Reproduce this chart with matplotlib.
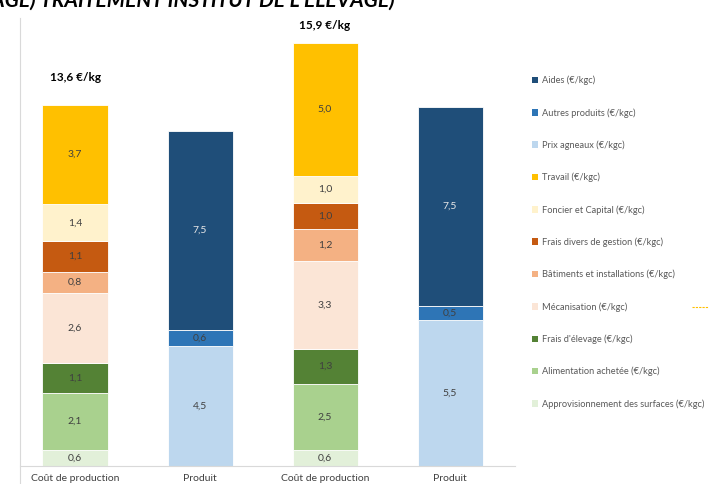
import matplotlib.pyplot as plt
from matplotlib.patches import Patch
from matplotlib.lines import Line2D

plt.rcParams['font.family'] = ['Lato', 'DejaVu Sans']

# Categories (x axis)
categories = ['Coût de production', 'Produit', 'Coût de production', 'Produit']

# Cost series, bottom to top (values for the two "Coût de production" bars)
# (first bar read a bit finer than the printed 1-decimal labels so it tops at 13,6)
cost_series = [
    ('Approvisionnement des surfaces (€/kgc)', [0.62, 0.6], '#E2F0D9'),
    ('Alimentation achetée (€/kgc)', [2.12, 2.5], '#A9D18E'),
    ("Frais d'élevage (€/kgc)", [1.14, 1.3], '#548235'),
    ('Mécanisation (€/kgc)', [2.62, 3.3], '#FBE5D6'),
    ('Bâtiments et installations (€/kgc)', [0.8, 1.2], '#F4B183'),
    ('Frais divers de gestion (€/kgc)', [1.14, 1.0], '#C55A11'),
    ('Foncier et Capital (€/kgc)', [1.4, 1.0], '#FFF2CC'),
    ('Travail (€/kgc)', [3.74, 5.0], '#FFC000'),
]
# Product series, bottom to top (values for the two "Produit" bars)
prod_series = [
    ('Prix agneaux (€/kgc)', [4.5, 5.5], '#BDD7EE'),
    ('Autres produits (€/kgc)', [0.6, 0.5], '#2E75B6'),
    ('Aides (€/kgc)', [7.5, 7.5], '#1F4E79'),
]
totals = ['13,6 €/kg', '15,9 €/kg']
total_values = [13.6, 15.9]

W, H = 710, 484
fig = plt.figure(figsize=(W / 100, H / 100), dpi=100)
ax = fig.add_axes([20 / W, 18 / H, 495 / W, 448 / H])

cost_x = [0, 2]
prod_x = [1, 3]
width = 0.52
text_dark = '#404040'

def stack(xs, series):
    bottoms = [0.0] * len(xs)
    for name, vals, col in series:
        ax.bar(xs, vals, width, bottom=bottoms, color=col, edgecolor='white', linewidth=0.6)
        tc = '#E8E8E8' if col == '#1F4E79' else text_dark
        for x, b, v in zip(xs, bottoms, vals):
            ax.text(x, b + v / 2, f'{v:.1f}'.replace('.', ','), ha='center', va='center',
                    fontsize=7.5, color=tc)
        bottoms = [b + v for b, v in zip(bottoms, vals)]
    return bottoms

stack(cost_x, cost_series)
stack(prod_x, prod_series)

# totals above cost bars
for x, t, v in zip(cost_x, totals, total_values):
    off = 1.0 if v < 15 else 0.65
    ax.text(x, v + off, t, ha='center', va='center', fontsize=8.5, fontweight='bold', color='black')

ax.set_xlim(-0.44, 3.52)
ax.set_ylim(0, 16.84)
ax.set_xticks(range(4))
ax.set_xticklabels(categories, fontsize=7.5, color=text_dark)
ax.tick_params(axis='x', length=0, pad=6)
ax.set_yticks([])
for s in ['top', 'right', 'left']:
    ax.spines[s].set_visible(False)
ax.spines['bottom'].set_color('#D9D9D9')

# chart area border on the left
fig.add_artist(Line2D([20 / W, 20 / W], [0, 466 / H], color='#D9D9D9', lw=0.8))

# legend
handles = [Patch(facecolor=c, edgecolor='none', label=n) for n, _, c in prod_series[::-1]]
handles += [Patch(facecolor=c, edgecolor='none', label=n) for n, _, c in cost_series[::-1]]
fig.legend(handles=handles, loc='upper left', bbox_to_anchor=(528 / W, 1 - 72 / H),
           frameon=False, fontsize=6.7, labelcolor='#595959', handlelength=0.7,
           handleheight=0.7, handletextpad=0.4, labelspacing=2.45, borderaxespad=0)

# tiny dashed artifact at the right
fig.add_artist(Line2D([692 / W, 708 / W], [1 - 307 / H, 1 - 307 / H], color='#FFC000',
                      lw=0.8, ls=(0, (2, 1))))

# cropped title at the very top
fig.text(395 / W, 1 - 1 / H, "ELEVAGE) TRAITEMENT INSTITUT DE L'ELEVAGE)", ha='right', va='center',
         fontsize=15, fontweight='bold', fontstyle='italic', color='black')

fig.savefig('out.png', dpi=100)
